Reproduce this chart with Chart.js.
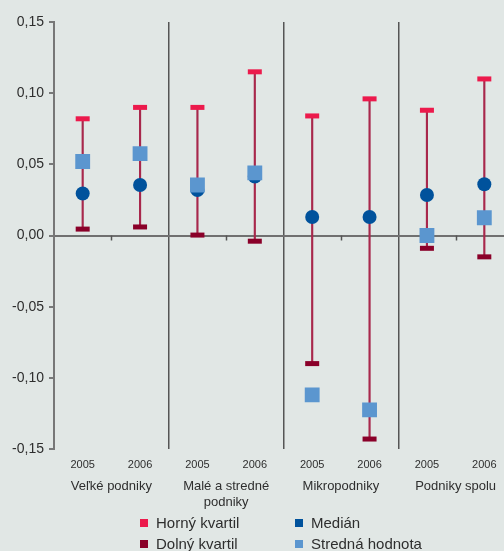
<!DOCTYPE html>
<html>
<head>
<meta charset="utf-8">
<script src="https://cdn.jsdelivr.net/npm/chart.js@4/dist/chart.umd.min.js"></script>
<style>
  html, body { margin: 0; padding: 0; overflow: hidden; background: #e1e7e5; width: 504px; height: 551px; }
  #wrap { position: absolute; left: 0; top: 0; width: 513px; height: 551px; }
  #legend { position: absolute; left: 0; top: 0; font-family: "Liberation Sans", Arial, sans-serif; font-size: 15px; color: #2e2e2e; }
  .item { position: absolute; white-space: nowrap; line-height: 18px; }
  .sw { display: inline-block; width: 8px; height: 8px; margin-right: 8px; vertical-align: 1px; }
</style>
</head>
<body>
<div id="wrap"><canvas id="c" width="513" height="551"></canvas></div>
<div id="legend"></div>
<script>
// Years per firm-size group and the group captions
const years = ['2005', '2006', '2005', '2006', '2005', '2006', '2005', '2006'];
const groups = ['Veľké podniky', ['Malé a stredné', 'podniky'], 'Mikropodniky', 'Podniky spolu'];

// Distribution statistics per group and year
const upperQuartile = [0.082, 0.090, 0.090, 0.115, 0.084, 0.096, 0.088, 0.110];
const lowerQuartile = [0.0045, 0.006, 0.0003, -0.004, -0.090, -0.143, -0.009, -0.015];
const median        = [0.0295, 0.0355, 0.032, 0.0415, 0.013, 0.013, 0.0285, 0.036];
const meanValue     = [0.052, 0.0575, 0.0355, 0.044, -0.112, -0.1225, 0.000, 0.0125];

// Value axis range
const yMin = -0.15, yMax = 0.15, yStep = 0.05;

const COLORS = {
  upper: '#ec1a4c',
  lower: '#8a0029',
  median: '#00529c',
  mean: '#5b96cf',
  whisker: '#a8284c'
};

const FONT = '"Liberation Sans", Arial, sans-serif';

// Short ticks on the zero line marking the centre of each group
const groupTicks = {
  id: 'groupTicks',
  beforeDatasetsDraw(chart) {
    const x = chart.scales.x, y = chart.scales.y;
    const y0 = y.getPixelForValue(0);
    const ctx = chart.ctx;
    ctx.save();
    ctx.strokeStyle = '#555';
    ctx.lineWidth = 1.5;
    for (let g = 0; g < groups.length; g++) {
      const px = Math.round((x.getPixelForValue(2 * g) + x.getPixelForValue(2 * g + 1)) / 2) + 0.5;
      ctx.beginPath();
      ctx.moveTo(px, y0);
      ctx.lineTo(px, y0 + 5);
      ctx.stroke();
    }
    ctx.restore();
  }
};

const chart = new Chart(document.getElementById('c'), {
  type: 'bar',
  data: {
    labels: years,
    datasets: [
      {
        label: 'Horný kvartil',
        type: 'line',
        data: upperQuartile,
        showLine: false,
        pointStyle: 'line',
        pointRadius: 7,
        pointBorderWidth: 5,
        pointBorderColor: COLORS.upper,
        pointBackgroundColor: COLORS.upper,
        backgroundColor: COLORS.upper,
        order: 3
      },
      {
        label: 'Dolný kvartil',
        type: 'line',
        data: lowerQuartile,
        showLine: false,
        pointStyle: 'line',
        pointRadius: 7,
        pointBorderWidth: 5,
        pointBorderColor: COLORS.lower,
        pointBackgroundColor: COLORS.lower,
        backgroundColor: COLORS.lower,
        order: 3
      },
      {
        label: 'Medián',
        type: 'line',
        data: median,
        showLine: false,
        pointStyle: 'circle',
        pointRadius: 7,
        pointBorderWidth: 0,
        pointBackgroundColor: COLORS.median,
        backgroundColor: COLORS.median,
        order: 2
      },
      {
        label: 'Stredná hodnota',
        type: 'line',
        data: meanValue,
        showLine: false,
        pointStyle: 'rect',
        pointRadius: 10.5,
        pointBorderWidth: 0,
        pointBackgroundColor: COLORS.mean,
        backgroundColor: COLORS.mean,
        order: 1
      },
      {
        label: 'interkvartilové rozpätie',
        type: 'bar',
        data: upperQuartile.map((u, i) => [lowerQuartile[i], u]),
        backgroundColor: COLORS.whisker,
        borderWidth: 0,
        barThickness: 1.5,
        order: 5,
        inLegend: false
      }
    ]
  },
  options: {
    responsive: false,
    animation: false,
    events: [],
    layout: { autoPadding: false, padding: { top: 22, left: 0, right: 0, bottom: 40 } },
    plugins: { legend: { display: false }, tooltip: { enabled: false } },
    scales: {
      x: {
        type: 'category',
        position: 'bottom',
        weight: 0,
        offset: true,
        border: { display: false },
        grid: {
          offset: true,
          drawTicks: false,
          lineWidth: 1.5,
          color: (ctx) => (ctx.index === 2 || ctx.index === 4 || ctx.index === 6) ? '#555' : 'transparent'
        },
        ticks: {
          autoSkip: false,
          maxRotation: 0,
          padding: 9,
          color: '#2e2e2e',
          font: { family: FONT, size: 11 }
        },
        afterFit: (s) => { s.height = 22; }
      },
      x2: {
        type: 'category',
        position: 'bottom',
        weight: 1,
        labels: groups,
        offset: true,
        border: { display: false },
        grid: { display: false, drawTicks: false },
        ticks: {
          autoSkip: false,
          maxRotation: 0,
          padding: 7,
          color: '#2e2e2e',
          font: { family: FONT, size: 13, lineHeight: 1.23 }
        },
        afterFit: (s) => { s.height = 40; }
      },
      y: {
        min: yMin,
        max: yMax,
        border: { display: true, color: '#777', width: 2 },
        grid: {
          drawTicks: true,
          tickLength: 5,
          tickColor: '#555',
          tickWidth: 1.5,
          lineWidth: 2,
          color: (ctx) => (ctx.tick && Math.abs(ctx.tick.value) < 1e-9) ? '#707070' : 'transparent'
        },
        ticks: {
          stepSize: yStep,
          padding: 5,
          color: '#2e2e2e',
          font: { family: FONT, size: 14 },
          callback: (v) => v.toFixed(2).replace('.', ',')
        },
        afterFit: (s) => { s.width = 54; }
      }
    }
  },
  plugins: [groupTicks]
});

// Two-column legend below the chart, built from the series definitions
const legend = document.getElementById('legend');
const shown = chart.data.datasets.filter(d => d.inLegend !== false);
const legendCols = [140, 295];
const legendRows = [514, 535];
// column-major: first column holds the quartiles, second the median and mean
shown.forEach((d, i) => {
  const col = Math.floor(i / 2), row = i % 2;
  const el = document.createElement('div');
  el.className = 'item';
  el.style.left = legendCols[col] + 'px';
  el.style.top = legendRows[row] + 'px';
  const sw = document.createElement('span');
  sw.className = 'sw';
  sw.style.background = d.backgroundColor;
  el.appendChild(sw);
  el.appendChild(document.createTextNode(d.label));
  legend.appendChild(el);
});
</script>
</body>
</html>
